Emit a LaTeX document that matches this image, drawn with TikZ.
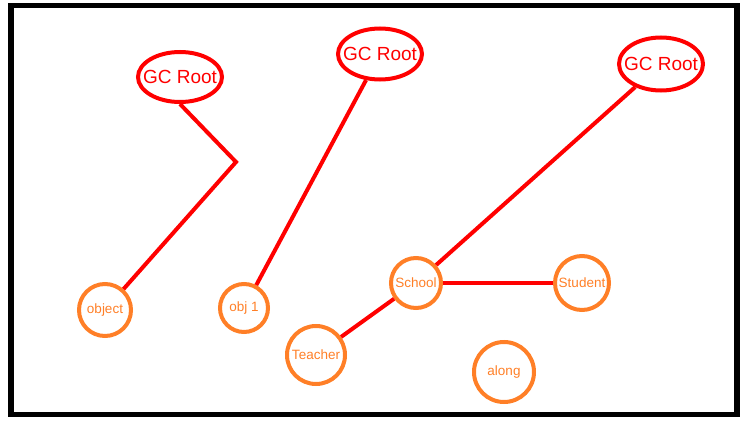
\documentclass[tikz,border=0pt]{standalone}
\usepackage{fontspec}
\setmainfont{Liberation Sans}
\usepackage{tikz}
\usetikzlibrary{shapes.geometric}
\definecolor{gcred}{RGB}{255,0,0}
\definecolor{objorange}{RGB}{255,127,39}

\begin{document}
\begin{tikzpicture}[x=1pt,y=-1pt,
  root/.style={ellipse,draw=gcred,line width=4,text=gcred,inner xsep=-8,inner ysep=0,
    minimum width=84,minimum height=50,font=\fontsize{19}{19}\selectfont},
  obj/.style={circle,draw=objorange,line width=4,text=objorange,inner sep=0,
    font=\fontsize{13.5}{13.5}\selectfont},
  ref/.style={draw=gcred,line width=4}]
\useasboundingbox (0,0) rectangle (750,428);
%frame
\draw [black,line width=5.5] (11,5.5) rectangle (737,414.5);
%GC roots
\node [root] (root1) at (180,77) {GC Root};
\node [root,minimum height=51] (root2) at (380,54) {GC Root};
\node [root,minimum height=53] (root3) at (661,64) {GC Root};
%objects
\node [obj,minimum size=52] (object) at (105,310) {object};
\node [obj,minimum size=48] (obj1) at (244,308) {obj 1};
\node [obj,minimum size=50] (school) at (416,283) {School};
\node [obj,minimum size=54] (student) at (582,283) {Student};
\node [obj,minimum size=58] (teacher) at (316,355) {Teacher};
\node [obj,minimum size=60] (along) at (504,372) {along};
%
\coordinate (bend) at (236,162);
\draw [ref] (root1.south) -- (bend) -- (object);
\draw [ref] (root2) -- (obj1);
\draw [ref] (root3) -- (school);
\draw [ref] (school) -- (student);
\draw [ref] (school) -- (teacher);
\end{tikzpicture}
\end{document}
